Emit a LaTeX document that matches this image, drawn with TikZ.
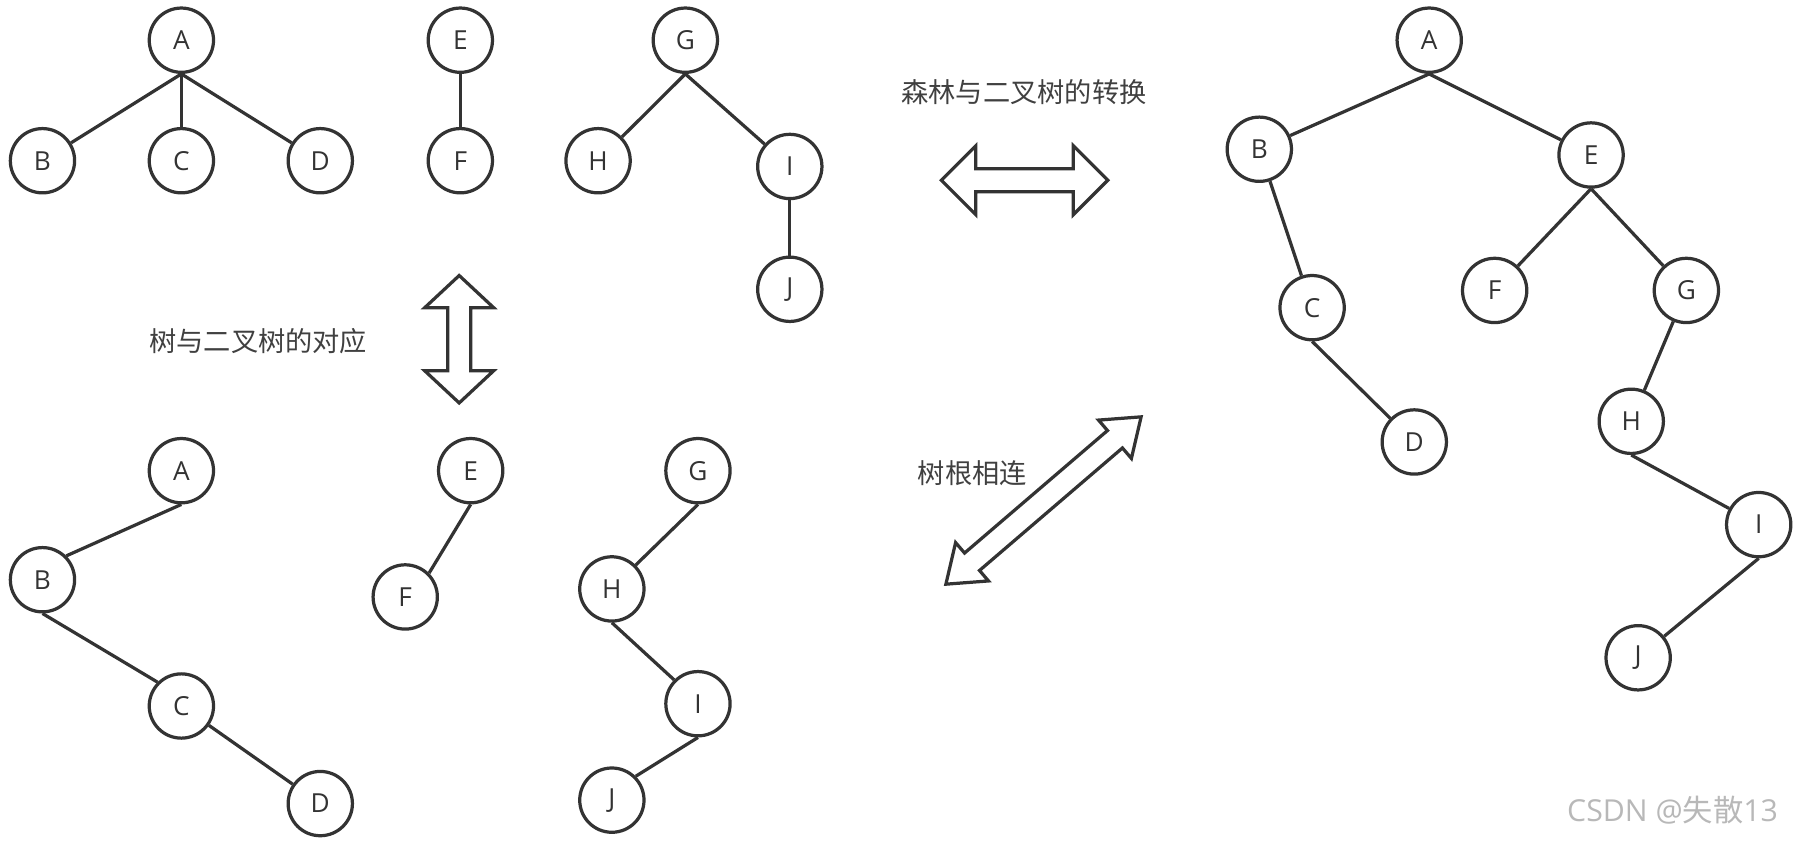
\documentclass[tikz,border=0pt]{standalone}
\usepackage{fontspec}
\setmainfont{Open Sans}
\newfontfamily\cjk{Noto Sans CJK SC}
\begin{document}
\begin{tikzpicture}[x=0.02cm,y=-0.02cm,
  nd/.style={circle,draw=black!80,line width=1.6pt,minimum size=56*0.02cm,inner sep=0pt,font=\fontsize{13}{13}\selectfont,text=black!80},
  ed/.style={draw=black!80,line width=1.6pt},
  harrow/.style={draw=black!80,line width=1.6pt,fill=white,line join=miter},
  lbl/.style={font=\cjk\fontsize{13.5}{13.5}\selectfont,text=black!75}]
\useasboundingbox (0,0) rectangle (1568,734);
% top trees
\node[nd] (a1) at (158,35) {A};
\node[nd] (b1) at (37,140) {B};
\node[nd] (c1) at (158,140) {C};
\node[nd] (d1) at (279,140) {D};
\draw[ed] (a1.south) -- (b1); \draw[ed] (a1.south) -- (c1); \draw[ed] (a1.south) -- (d1);
\node[nd] (e1) at (401,35) {E};
\node[nd] (f1) at (401,140) {F};
\draw[ed] (e1) -- (f1);
\node[nd] (g1) at (597,35) {G};
\node[nd] (h1) at (521,140) {H};
\node[nd] (i1) at (688,145) {I};
\node[nd] (j1) at (688,252) {J};
\draw[ed] (g1.south) -- (h1); \draw[ed] (g1.south) -- (i1); \draw[ed] (i1) -- (j1);
% bottom trees
\node[nd] (a2) at (158,410) {A};
\node[nd] (b2) at (37,505) {B};
\node[nd] (c2) at (158,615) {C};
\node[nd] (d2) at (279,700) {D};
\draw[ed] (a2.south) -- (b2.north east); \draw[ed] (b2.south) -- (c2.north west); \draw[ed] (c2) -- (d2);
\node[nd] (e2) at (410,410) {E};
\node[nd] (f2) at (353,520) {F};
\draw[ed] (e2.south) -- (f2.north east);
\node[nd] (g2) at (608,410) {G};
\node[nd] (h2) at (533,513) {H};
\node[nd] (i2) at (608,613) {I};
\node[nd] (j2) at (533,697) {J};
\draw[ed] (g2.south) -- (h2.north east); \draw[ed] (h2.south) -- (i2.north west); \draw[ed] (i2.south) -- (j2.north east);
% right tree
\node[nd] (a3) at (1245,35) {A};
\node[nd] (b3) at (1097,130) {B};
\node[nd] (e3) at (1386,135) {E};
\node[nd] (c3) at (1143,268) {C};
\node[nd] (f3) at (1302,253) {F};
\node[nd] (g3) at (1469,253) {G};
\node[nd] (d3) at (1232,385) {D};
\node[nd] (h3) at (1421,367) {H};
\node[nd] (i3) at (1532,457) {I};
\node[nd] (j3) at (1427,573) {J};
\draw[ed] (a3.south) -- (b3); \draw[ed] (a3.south) -- (e3);
\draw[ed] (b3) -- (c3); \draw[ed] (c3.south) -- (d3);
\draw[ed] (e3.south) -- (f3); \draw[ed] (e3.south) -- (g3);
\draw[ed] (g3) -- (h3); \draw[ed] (h3.south) -- (i3); \draw[ed] (i3.south) -- (j3);
% hollow double arrows
\draw[harrow] (820,157) -- ++(30,-30) -- ++(0,20) -- ++(85,0) -- ++(0,-20) -- ++(30,30) -- ++(-30,30) -- ++(0,-20) -- ++(-85,0) -- ++(0,20) -- cycle;
\draw[harrow] (400,240) -- ++(30,28) -- ++(-20,0) -- ++(0,55) -- ++(20,0) -- ++(-30,28) -- ++(-30,-28) -- ++(20,0) -- ++(0,-55) -- ++(-20,0) -- cycle;
\begin{scope}[shift={(909,436)},rotate=40.6]
\draw[harrow] (-112,0) -- ++(30,-22) -- ++(0,12) -- ++(164,0) -- ++(0,-12) -- ++(30,22) -- ++(-30,22) -- ++(0,-12) -- ++(-164,0) -- ++(0,12) -- cycle;
\end{scope}
% labels
\node[lbl] (t1) at (892,80) {森林与二叉树的转换};
\node[lbl] (t2) at (225,297) {树与二叉树的对应};
\node[lbl] (t3) at (847,412) {树根相连};
\node[font=\fontsize{15}{15}\selectfont,text=black!28] (t4) at (1457,706) {CSDN @{\cjk 失散}13};
\end{tikzpicture}
\end{document}
